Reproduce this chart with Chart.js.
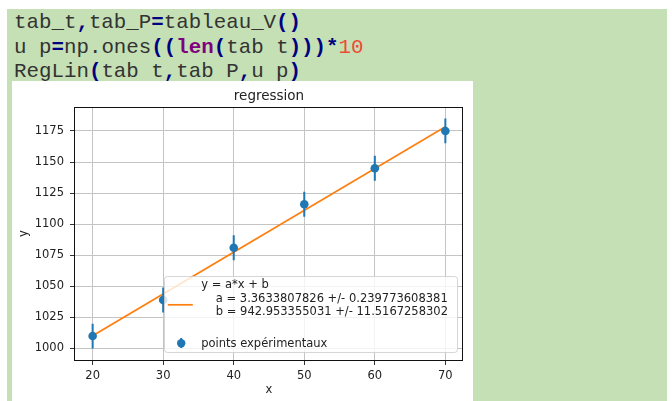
<!DOCTYPE html>
<html><head><meta charset="utf-8">
<script src="https://cdn.jsdelivr.net/npm/chart.js@4.4.1/dist/chart.umd.min.js"></script>
<style>
html,body{margin:0;padding:0;background:#fff;width:672px;height:401px;overflow:hidden;}
#panel{position:absolute;left:7px;top:9px;width:660px;height:392px;background:#c5e0b4;}
#code{position:absolute;left:14px;top:11px;font-family:"Liberation Mono",monospace;font-size:20.8px;line-height:24.5px;color:#333;white-space:pre;}
.op{color:#000080;font-weight:bold}
.kw{color:#800080;font-weight:bold}
.num{color:#ee4a35}
#plot{position:absolute;left:12px;top:81px;width:461px;height:320px;background:#fff;}
canvas{display:block}
</style></head>
<body>
<div id="panel"></div>
<div id="code">tab_t<span class="op">,</span>tab_P<span class="op">=</span>tableau_V<span class="op">()</span>
u p<span class="op">=</span>np.ones<span class="op">((</span><span class="kw">len</span><span class="op">(</span>tab t<span class="op">)))*</span><span class="num">10</span>
RegLin<span class="op">(</span>tab t<span class="op">,</span>tab P<span class="op">,</span>u p<span class="op">)</span></div>
<div id="plot"><canvas id="c" width="461" height="320"></canvas></div>
<script>
const xValues = [20, 30, 40, 50, 60, 70];
const yValues = [1010, 1039, 1081, 1116, 1145, 1175];
const yErrors = [10, 10, 10, 10, 10, 10];
const fitX = [20, 70];
const fitY = [1010.2, 1178.4];
const xTicks = [20, 30, 40, 50, 60, 70];
const yTicks = [1000, 1025, 1050, 1075, 1100, 1125, 1150, 1175];
const xRange = [17.5, 72.5];
const yRange = [990.75, 1194.25];
const titleText = 'regression';
const xLabel = 'x';
const yLabel = 'y';
const legendFitLines = ['y = a*x + b', '    a = 3.3633807826 +/- 0.239773608381', '    b = 942.953355031 +/- 11.5167258302', ''];
const legendPointsLabel = 'points expérimentaux';

const BLUE = '#1f77b4', ORANGE = '#ff7f0e';
const FONT = '"DejaVu Sans", sans-serif';

const errData = [];
xValues.forEach((x, i) => {
  errData.push({x: x, y: yValues[i] - yErrors[i]}, {x: x, y: yValues[i] + yErrors[i]}, {x: x, y: null});
});

const overlay = {
  id: 'overlay',
  afterDatasetsDraw(chart) {
    const {ctx, chartArea: a} = chart;
    ctx.save();
    // frame
    ctx.strokeStyle = '#111';
    ctx.lineWidth = 1;
    const l = Math.round(a.left) - 0.5, r = Math.round(a.right) - 0.5;
    const t = Math.round(a.top) + 0.5, b = Math.round(a.bottom) + 0.5;
    ctx.strokeRect(l, t, r - l, b - t);
    // legend box
    const bw = 293, bh = 76;
    const bx = Math.round(a.right - 6 - bw) + 0.5, by = Math.round(a.bottom - 8 - bh) + 0.5;
    ctx.beginPath();
    ctx.roundRect(bx, by, bw, bh, 3);
    ctx.fillStyle = 'rgba(255,255,255,0.8)';
    ctx.fill();
    ctx.strokeStyle = 'rgba(204,204,204,0.8)';
    ctx.stroke();
    // fit entry
    ctx.strokeStyle = ORANGE;
    ctx.lineWidth = 1.7;
    ctx.beginPath();
    ctx.moveTo(bx + 3.3, by + 28.3);
    ctx.lineTo(bx + 28.3, by + 28.3);
    ctx.stroke();
    ctx.fillStyle = '#222';
    ctx.font = '11.5px ' + FONT;
    ctx.textBaseline = 'middle';
    ctx.textAlign = 'left';
    legendFitLines.forEach((s, i) => ctx.fillText(s, bx + 36.7, by + 9 + 13.3 * i));
    // points entry
    ctx.strokeStyle = BLUE;
    ctx.lineWidth = 2;
    ctx.beginPath();
    ctx.moveTo(bx + 16.7, by + 61.5);
    ctx.lineTo(bx + 16.7, by + 71.5);
    ctx.stroke();
    ctx.fillStyle = BLUE;
    ctx.beginPath();
    ctx.arc(bx + 16.7, by + 66.7, 4.2, 0, Math.PI * 2);
    ctx.fill();
    ctx.fillStyle = '#222';
    ctx.fillText(legendPointsLabel, bx + 36.7, by + 68);
    // title
    ctx.font = '13.5px ' + FONT;
    ctx.textAlign = 'center';
    ctx.fillText(titleText, (a.left + a.right) / 2, 15.5);
    ctx.restore();
  }
};

new Chart(document.getElementById('c'), {
  type: 'scatter',
  data: {
    datasets: [
      {label: 'points', data: xValues.map((x, i) => ({x: x, y: yValues[i]})), backgroundColor: BLUE, borderColor: BLUE,
       pointRadius: 4.3, pointHoverRadius: 4.3, pointBorderWidth: 0, showLine: false, order: 0},
      {label: 'err', type: 'line', data: errData, borderColor: BLUE, borderWidth: 2, pointRadius: 0,
       spanGaps: false, showLine: true, order: 1},
      {label: 'fit', type: 'line', data: fitX.map((x, i) => ({x: x, y: fitY[i]})), borderColor: ORANGE, borderWidth: 1.7,
       pointRadius: 0, showLine: true, order: 2}
    ]
  },
  options: {
    responsive: false,
    animation: false,
    devicePixelRatio: 1,
    layout: {padding: {top: 26, right: 10, left: 0, bottom: 0}},
    plugins: {legend: {display: false}, tooltip: {enabled: false}, title: {display: false}},
    scales: {
      x: {
        type: 'linear', min: xRange[0], max: xRange[1],
        afterBuildTicks: s => { s.ticks = xTicks.map(v => ({value: v})); },
        afterFit: s => { s.height = 41; },
        grid: {color: '#c4c4c4', lineWidth: 1, tickLength: 5, tickColor: '#333', drawTicks: true},
        border: {display: false},
        ticks: {color: '#222', font: {family: FONT, size: 11.5}, padding: 4, maxRotation: 0, autoSkip: false, callback: v => String(v)},
        title: {display: true, text: xLabel, color: '#222', font: {family: FONT, size: 11.5}, padding: {top: 0, bottom: 4.2}}
      },
      y: {
        type: 'linear', min: yRange[0], max: yRange[1],
        afterBuildTicks: s => { s.ticks = yTicks.map(v => ({value: v})); },
        afterFit: s => { s.width = 63; },
        grid: {color: '#c4c4c4', lineWidth: 1, tickLength: 5, tickColor: '#333', drawTicks: true},
        border: {display: false},
        ticks: {color: '#222', font: {family: FONT, size: 11.5}, padding: 6, autoSkip: false, callback: v => String(v)},
        title: {display: true, text: yLabel, color: '#222', font: {family: FONT, size: 11.5}, padding: {top: 5, bottom: 0}}
      }
    }
  },
  plugins: [overlay]
});
</script>
</body></html>
